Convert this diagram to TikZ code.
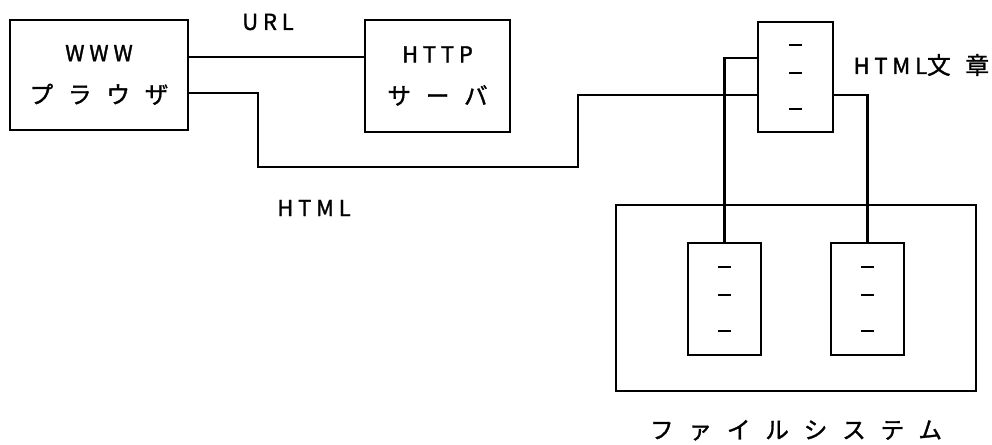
\documentclass[tikz,border=0pt]{standalone}
\usepackage{fontspec}
\newfontfamily\jpfont[LetterSpace=22, FakeBold=1.5]{Noto Sans CJK JP}
\newfontfamily\jpwide[LetterSpace=62, FakeBold=1.2]{Noto Sans CJK JP}
\usetikzlibrary{positioning}
\tikzset{
    box/.style={draw, line width=1.4pt, rectangle, inner sep=0pt},
    doc/.style={box, minimum width=1.46cm, minimum height=2.24cm},
    link/.style={line width=1.2pt},
    lbl/.style={font=\jpfont\fontsize{12.5}{24}\selectfont, inner sep=0pt}
}
\newcommand{\dashes}[1]{%
    \foreach \dy in {0.64,0.08,-0.64}
        \draw[line width=1.3pt] ([xshift=-0.13cm,yshift=\dy cm]#1.center) -- ([xshift=0.13cm,yshift=\dy cm]#1.center);
}
\begin{document}
\begin{tikzpicture}
    \useasboundingbox (0,0) rectangle (19.84,-8.9);
    % Boxes
    \node[box, lbl, minimum width=3.56cm, minimum height=2.2cm, align=center] (browser) at (1.98,-1.5) {WWW\\{\jpwide\fontsize{13.5}{24}\selectfont プラウザ}};
    \node[box, lbl, minimum width=2.9cm, minimum height=2.24cm, align=center] (server) at (8.75,-1.52) {HTTP\\{\jpwide\fontsize{13.5}{24}\selectfont サーバ}};
    \node[box, minimum width=1.5cm, minimum height=2.2cm] (html) at (15.91,-1.54) {};
    \node[box, minimum width=7.2cm, minimum height=3.72cm] (fs) at (15.92,-5.96) {};
    \node[doc] (fileA) at (14.49,-5.98) {};
    \node[doc] (fileB) at (17.35,-5.98) {};
    % Dashes
    \dashes{html}
    \dashes{fileA}
    \dashes{fileB}
    % Bends
    \coordinate (bendA) at (5.16,-3.34);
    \coordinate (bendB) at (11.56,-3.34);
    % Connectors
    \draw[link] ([yshift=0.36cm]browser.east) -- ([yshift=0.36cm]browser.east -| server.west);
    \draw[link] ([yshift=-0.36cm]browser.east) -| (bendA) -- (bendB) |- ([yshift=-0.36cm]html.west);
    \draw[link] ([yshift=0.38cm]html.west) -| (fileA.north);
    \draw[link] ([yshift=-0.36cm]html.east) -| (fileB.north);
    % Labels
    \node[lbl] (url) at (5.36,-0.44) {URL};
    \node[lbl] (htmllbl) at (6.28,-4.16) {HTML};
    \node[lbl, anchor=west] (doclbl) at ([xshift=0.38cm,yshift=0.24cm]html.east) {HTML{\jpwide\fontsize{13.5}{24}\selectfont 文章}};
    \node[lbl, font=\jpwide\fontsize{13.5}{24}\selectfont, below=0.55cm of fs] (fslbl) {ファイルシステム};
\end{tikzpicture}
\end{document}
